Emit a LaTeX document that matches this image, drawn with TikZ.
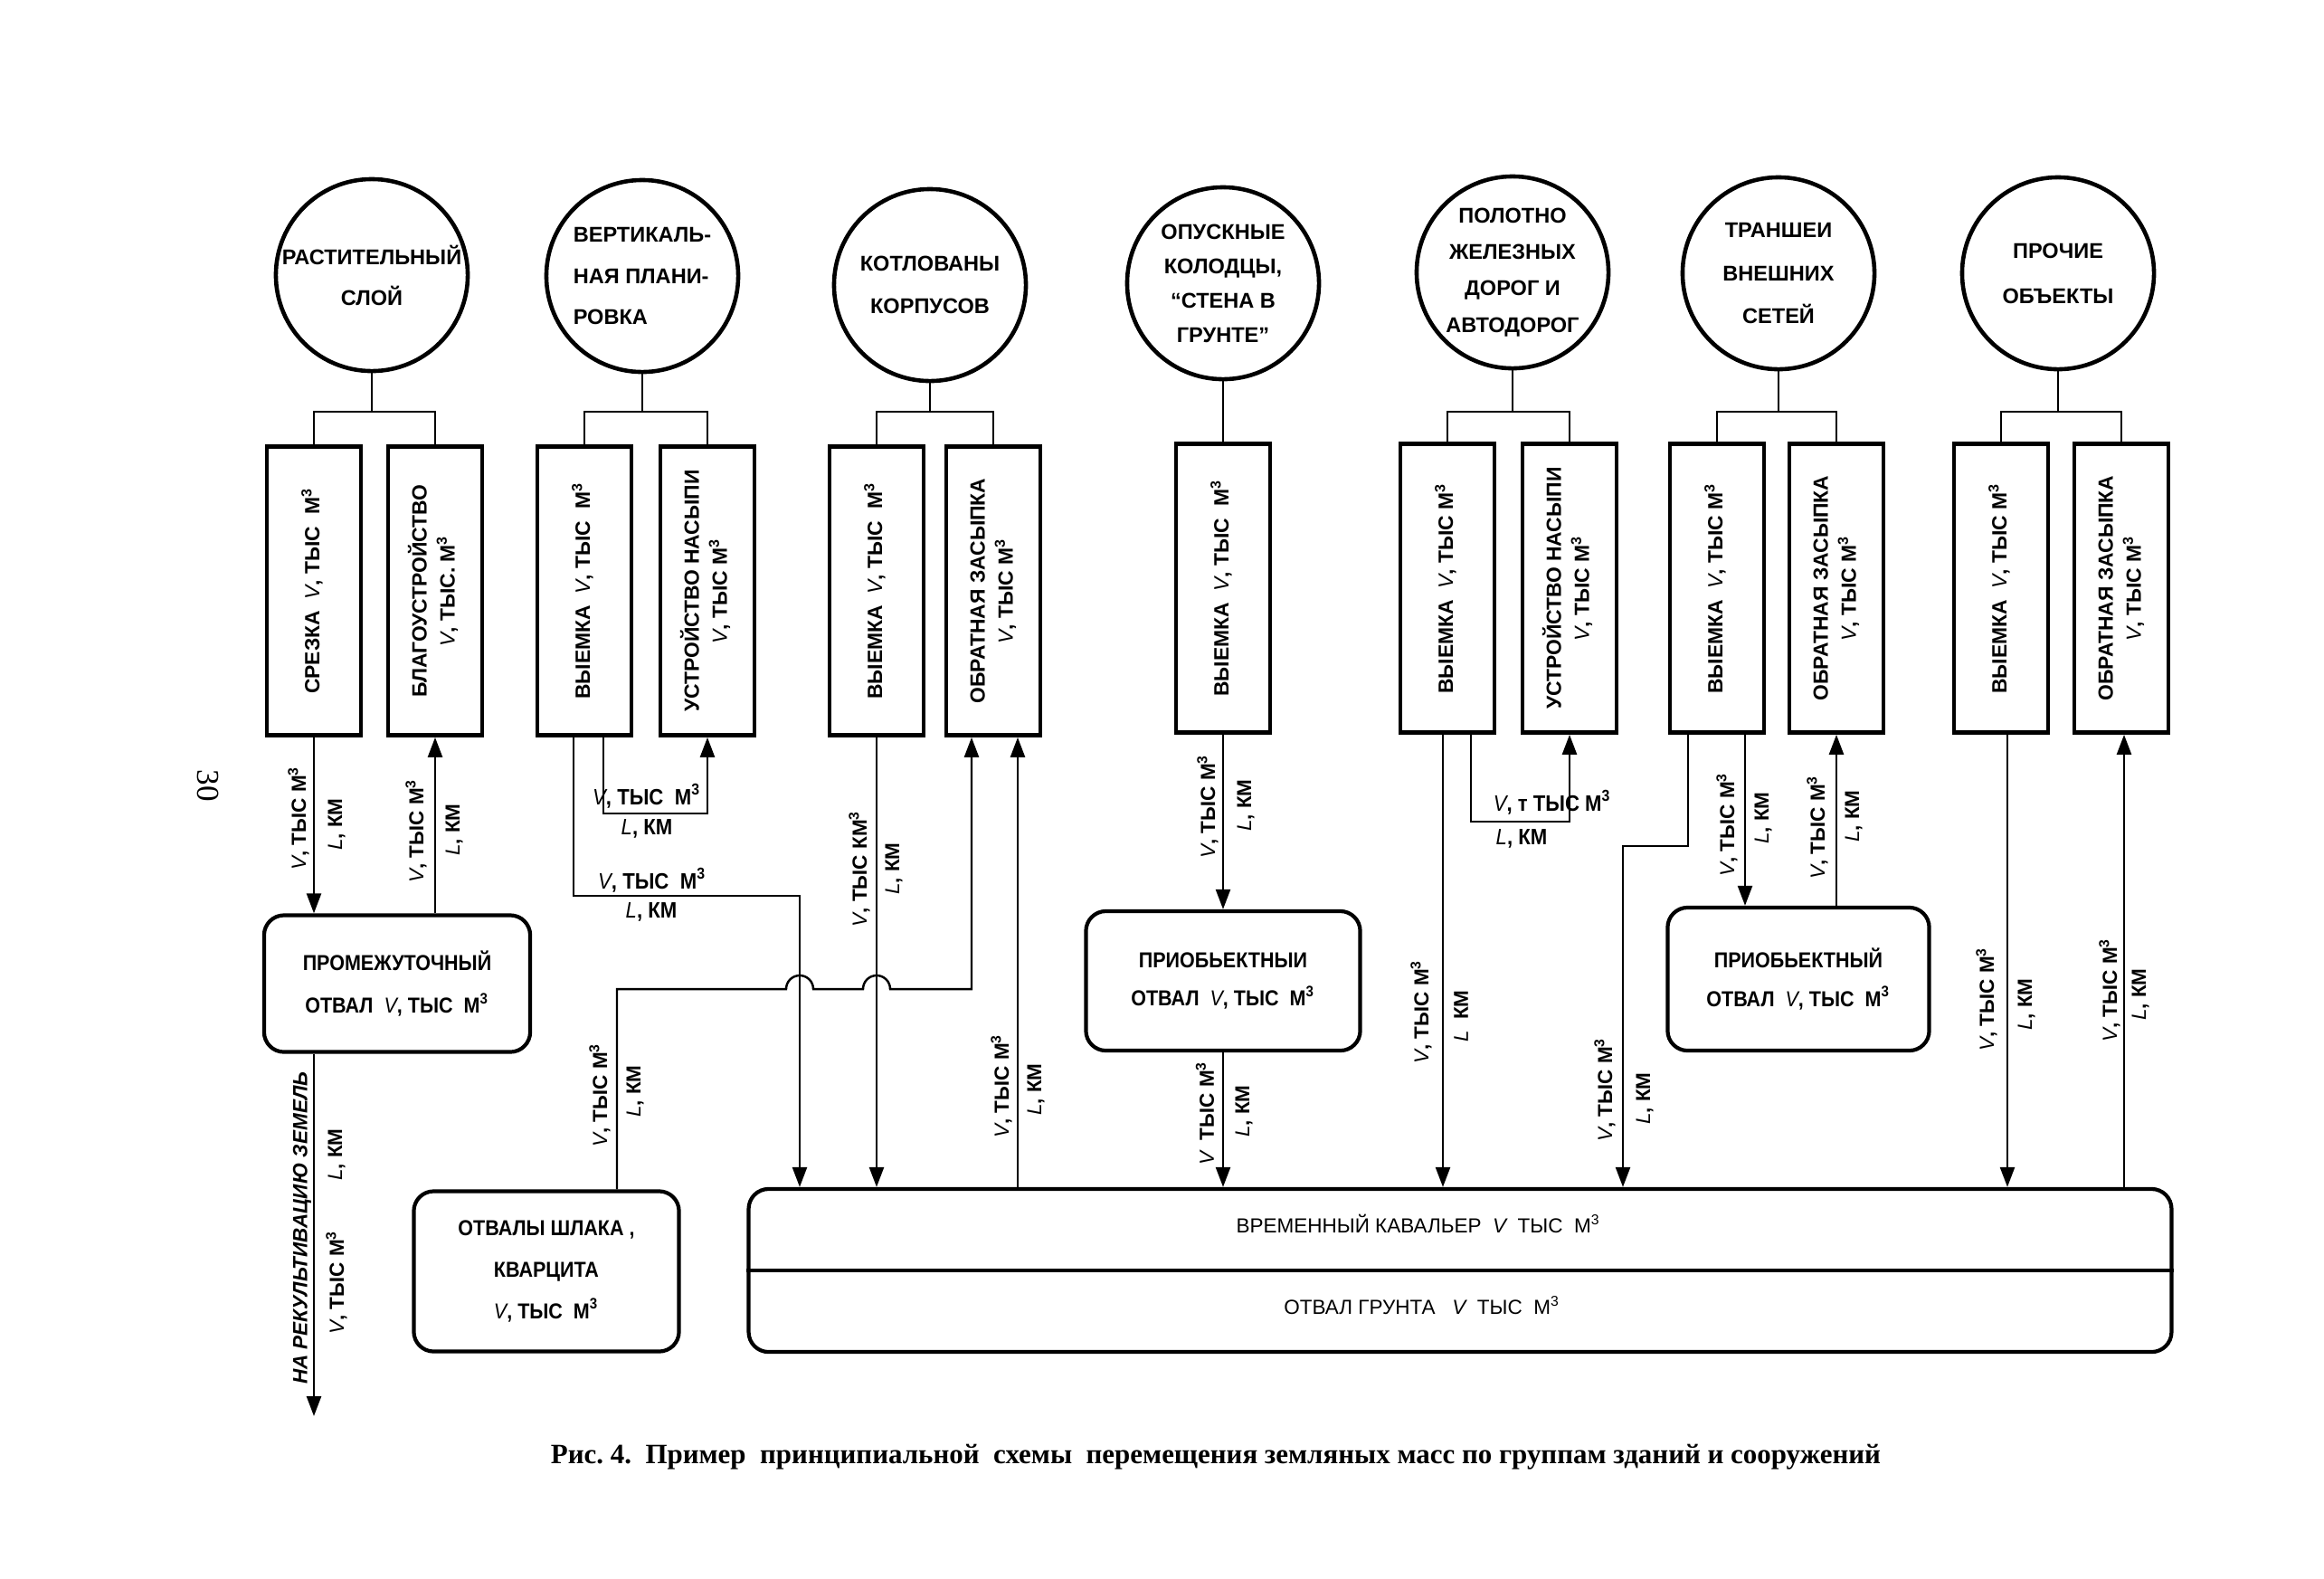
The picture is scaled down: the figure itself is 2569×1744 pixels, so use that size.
\documentclass[tikz,border=0pt]{standalone}
\usepackage{fontspec}
\setmainfont{Liberation Sans}
\newfontfamily\narrowfont[FakeStretch=0.9]{Liberation Sans}
\newfontfamily\serifcap{Liberation Serif}
\usetikzlibrary{arrows.meta}
\newcommand{\Vi}{{\mdseries\itshape V}}
\newcommand{\Li}{{\mdseries\itshape L}}
\newcommand{\Mc}{М\textsuperscript{3}}
\newcommand{\turn}[1]{\rotatebox{90}{\begin{tabular}{@{}c@{}}#1\end{tabular}}}

\begin{document}
\begin{tikzpicture}[x=0.01cm,y=-0.01cm,
  circ/.style={circle,draw,line width=1.3pt,minimum size=2.12cm,inner sep=0pt},
  clab/.style={inner sep=0pt,align=center,font=\bfseries\fontsize{6.7}{12.8}\selectfont},
  col/.style={rectangle,draw,line width=1.3pt,minimum width=1.04cm,minimum height=3.19cm,inner sep=0pt,font=\bfseries\fontsize{6.5}{8.8}\selectfont},
  dump/.style={rectangle,draw,line width=1.2pt,rounded corners=0.22cm,inner sep=0pt,align=center,font=\narrowfont\bfseries\fontsize{6.8}{12}\selectfont},
  ktext/.style={inner sep=0pt,font=\fontsize{6.4}{8}\selectfont},
  link/.style={line width=0.7pt},
  flow/.style={line width=0.7pt,-{Triangle[length=0.22cm,width=0.16cm]}},
  vlab/.style={rotate=90,inner sep=0pt,font=\bfseries\fontsize{6.4}{8}\selectfont},
  hlab/.style={inner sep=0pt,font=\narrowfont\bfseries\fontsize{7}{8}\selectfont}]
\useasboundingbox (0,0) rectangle (2569,1744);

\node[circ,label={[clab]center:{РАСТИТЕЛЬНЫЙ\\СЛОЙ}}] (c1) at (411,304) {};
\node[circ,label={[clab,align=left]center:{ВЕРТИКАЛЬ-\\НАЯ ПЛАНИ-\\РОВКА}}] (c2) at (710,305) {};
\node[circ,label={[clab,font=\bfseries\fontsize{6.7}{13.4}\selectfont]center:{КОТЛОВАНЫ\\КОРПУСОВ}}] (c3) at (1028,315) {};
\node[circ,label={[clab,font=\bfseries\fontsize{6.7}{10.8}\selectfont]center:{ОПУСКНЫЕ\\КОЛОДЦЫ,\\“СТЕНА В\\ГРУНТЕ”}}] (c4) at (1352,313) {};
\node[circ,label={[clab,font=\bfseries\fontsize{6.7}{11.4}\selectfont]center:{ПОЛОТНО\\ЖЕЛЕЗНЫХ\\ДОРОГ И\\АВТОДОРОГ}}] (c5) at (1672,301) {};
\node[circ,label={[clab,font=\bfseries\fontsize{6.7}{13.4}\selectfont]center:{ТРАНШЕИ\\ВНЕШНИХ\\СЕТЕЙ}}] (c6) at (1966,302) {};
\node[circ,label={[clab,font=\bfseries\fontsize{6.7}{14.2}\selectfont]center:{ПРОЧИЕ\\ОБЪЕКТЫ}}] (c7) at (2275,302) {};

\node[col] (b1) at (347,653) {\turn{СРЕЗКА\ \ \Vi, ТЫС\ \ \Mc}};
\node[col] (b2) at (481,653) {\turn{БЛАГОУСТРОЙСТВО\\\Vi, ТЫС. \Mc}};
\node[col] (b3) at (646,653) {\turn{ВЫЕМКА\ \ \Vi, ТЫС\ \ \Mc}};
\node[col] (b4) at (782,653) {\turn{УСТРОЙСТВО НАСЫПИ\\\Vi, ТЫС \Mc}};
\node[col] (b5) at (969,653) {\turn{ВЫЕМКА\ \ \Vi, ТЫС\ \ \Mc}};
\node[col] (b6) at (1098,653) {\turn{ОБРАТНАЯ ЗАСЫПКА\\\Vi, ТЫС \Mc}};
\node[col] (b7) at (1352,650) {\turn{ВЫЕМКА\ \ \Vi, ТЫС\ \ \Mc}};
\node[col] (b8) at (1600,650) {\turn{ВЫЕМКА\ \ \Vi, ТЫС \Mc}};
\node[col] (b9) at (1735,650) {\turn{УСТРОЙСТВО НАСЫПИ\\\Vi, ТЫС \Mc}};
\node[col] (b10) at (1898,650) {\turn{ВЫЕМКА\ \ \Vi, ТЫС \Mc}};
\node[col] (b11) at (2030,650) {\turn{ОБРАТНАЯ ЗАСЫПКА\\\Vi, ТЫС \Mc}};
\node[col] (b12) at (2212,650) {\turn{ВЫЕМКА\ \ \Vi, ТЫС \Mc}};
\node[col] (b13) at (2345,650) {\turn{ОБРАТНАЯ ЗАСЫПКА\\\Vi, ТЫС \Mc}};

\foreach \c/\a/\b in {c1/b1/b2,c2/b3/b4,c3/b5/b6,c5/b8/b9,c6/b10/b11,c7/b12/b13}{
  \draw[link] (\c.south) -- (\c.south |- 0,455);
  \draw[link] (\a.north) |- (\b.north |- 0,455) -- (\b.north);
}
\draw[link] (c4.south) -- (b7.north);

\node[dump,minimum width=2.94cm,minimum height=1.51cm] (P) at (439,1087) {ПРОМЕЖУТОЧНЫЙ\\[1.6pt]ОТВАЛ\ \ \Vi, ТЫС\ \ \Mc};
\node[dump,minimum width=3.03cm,minimum height=1.54cm] (Q1) at (1352,1084) {ПРИОБЬЕКТНЫИ\\ОТВАЛ\ \ \Vi, ТЫС\ \ \Mc};
\node[dump,minimum width=2.89cm,minimum height=1.58cm] (Q2) at (1988,1082) {ПРИОБЬЕКТНЫЙ\\ОТВАЛ\ \ \Vi, ТЫС\ \ \Mc};
\node[dump,minimum width=2.93cm,minimum height=1.77cm] (S) at (604,1405) {ОТВАЛЫ ШЛАКА ,\\[1pt]КВАРЦИТА\\[1pt]\Vi, ТЫС\ \ \Mc};
\node[dump,minimum width=15.72cm,minimum height=1.80cm] (K) at (1614,1404) {};
\draw[line width=1.2pt] (K.west) -- (K.east);
\node[ktext] (kav) at (1568,1352) {ВРЕМЕННЫЙ КАВАЛЬЕР\ \ \Vi\ \ ТЫС\ \ \Mc};
\node[ktext] (grunt) at (1572,1443) {ОТВАЛ ГРУНТА\ \ \ \Vi\ \ ТЫС\ \ \Mc};

\coordinate (rek) at (347,1565);
\coordinate (j1) at (667,899);
\coordinate (j2) at (634,990);
\coordinate (j3) at (1626,908);
\coordinate (j4) at (1866,935);

\draw[flow] (b1.south) -- (b1.south |- P.north);
\draw[flow] (P.north -| b2.south) -- (b2.south);
\draw[flow] (P.south -| rek) -- (rek);
\draw[flow] (j1 |- b3.south) -- (j1) -| (b4.south);
\draw[flow] (j2 |- b3.south) -- (j2) -| (884,0 |- K.north);
\draw[flow] (b5.south) -- (b5.south |- K.north);
\draw[flow] (682,0 |- S.north) -- (682,1093) -- (869,1093) arc (180:360:15)
  -- (954,1093) arc (180:360:15) -- (1074,1093) -- (1074,0 |- b6.south);
\draw[flow] (1125,0 |- K.north) -- (1125,0 |- b6.south);
\draw[flow] (b7.south) -- (b7.south |- Q1.north);
\draw[flow] (Q1.south) -- (Q1.south |- K.north);
\draw[flow] (1595,0 |- b8.south) -- (1595,0 |- K.north);
\draw[flow] (j3 |- b8.south) -- (j3) -| (b9.south);
\draw[flow] (j4 |- b10.south) -- (j4) -| (1794,0 |- K.north);
\draw[flow] (1929,0 |- b10.south) -- (1929,0 |- Q2.north);
\draw[flow] (Q2.north -| b11.south) -- (b11.south);
\draw[flow] (2219,0 |- b12.south) -- (2219,0 |- K.north);
\draw[flow] (2348,0 |- K.north) -- (2348,0 |- b13.south);

\node[vlab] (v1) at (330,904) {\Vi, ТЫС\ \Mc};
\node[vlab] (l1) at (372,911) {\Li, КМ};
\node[vlab] (v2) at (460,918) {\Vi, ТЫС\ \Mc};
\node[vlab] (l2) at (502,917) {\Li, КМ};
\node[vlab,font=\bfseries\itshape\fontsize{6.4}{8}\selectfont] (rk) at (334,1357) {НА РЕКУЛЬТИВАЦИЮ ЗЕМЕЛЬ};
\node[vlab] (v3) at (372,1417) {\Vi, ТЫС\ \Mc};
\node[vlab] (l3) at (372,1276) {\Li, КМ};
\node[hlab] (v4) at (715,880) {\Vi, ТЫС\ \ \Mc};
\node[hlab] (l4) at (715,916) {\Li, КМ};
\node[hlab] (v5) at (721,973) {\Vi, ТЫС\ \ \Mc};
\node[hlab] (l5) at (720,1008) {\Li, КМ};
\node[vlab] (v6) at (950,960) {\Vi, ТЫС\ КМ\textsuperscript{3}};
\node[vlab] (l6) at (988,960) {\Li, КМ};
\node[vlab] (v7) at (663,1210) {\Vi, ТЫС\ \Mc};
\node[vlab] (l7) at (702,1206) {\Li, КМ};
\node[vlab] (v8) at (1107,1200) {\Vi, ТЫС\ \Mc};
\node[vlab] (l8) at (1145,1204) {\Li, КМ};
\node[vlab] (v9) at (1335,891) {\Vi, ТЫС\ \Mc};
\node[vlab] (l9) at (1377,890) {\Li, КМ};
\node[vlab] (v10) at (1332,1230) {\Vi\ \ ТЫС\ \Mc};
\node[vlab] (l10) at (1375,1228) {\Li, КМ};
\node[vlab] (v11) at (1571,1118) {\Vi, ТЫС\ \Mc};
\node[vlab] (l11) at (1615,1123) {\Li\ \ КМ};
\node[hlab] (v12) at (1716,887) {\Vi, т\ ТЫС\ \Mc};
\node[hlab] (l12) at (1682,927) {\Li, КМ};
\node[vlab] (v13) at (1774,1204) {\Vi, ТЫС\ \Mc};
\node[vlab] (l13) at (1818,1214) {\Li, КМ};
\node[vlab] (v14) at (1909,911) {\Vi, ТЫС\ \Mc};
\node[vlab] (l14) at (1949,904) {\Li, КМ};
\node[vlab] (v15) at (2009,914) {\Vi, ТЫС\ \Mc};
\node[vlab] (l15) at (2049,902) {\Li, КМ};
\node[vlab] (v16) at (2196,1104) {\Vi, ТЫС\ \Mc};
\node[vlab] (l16) at (2240,1110) {\Li, КМ};
\node[vlab] (v17) at (2332,1094) {\Vi, ТЫС\ \Mc};
\node[vlab] (l17) at (2366,1099) {\Li, КМ};

\node[rotate=-90,inner sep=0pt,font=\serifcap\fontsize{10}{10}\selectfont] (page) at (230,868) {30};
\node[inner sep=0pt,font=\serifcap\bfseries\fontsize{8.8}{10}\selectfont] (caption) at (1344,1610) {Рис.~4.\ \ Пример\ \ принципиальной\ \ схемы\ \ перемещения земляных масс по группам зданий и сооружений};
\end{tikzpicture}
\end{document}
